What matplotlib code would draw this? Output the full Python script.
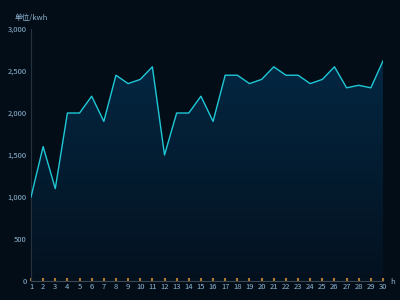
import numpy as np
import matplotlib
matplotlib.use("Agg")
import matplotlib.pyplot as plt
from matplotlib.ticker import FuncFormatter

plt.rcParams['font.family'] = ['Noto Sans CJK SC', 'DejaVu Sans']

days = list(range(1, 31))
usage = [1000, 1600, 1100, 2000, 2000, 2200, 1900, 2450, 2350, 2400,
         2550, 1500, 2000, 2000, 2200, 1900, 2450, 2450, 2350, 2400,
         2550, 2450, 2450, 2350, 2400, 2550, 2300, 2330, 2300, 2620]
y_ticks = [0, 500, 1000, 1500, 2000, 2500, 3000]

bg = '#020d18'
label_color = '#8fb6d3'

fig = plt.figure(figsize=(4, 3), dpi=100, facecolor=bg)
ax = fig.add_axes([0.0775, 0.0633, 0.88, 0.84])
ax.set_facecolor(bg)
ax.set_xlim(1, 30)
ax.set_ylim(0, 3000)

# gradient fill under the line, clipped to the area polygon
fill = ax.fill_between(days, usage, 0, color='none', lw=0)
grad = np.linspace(0, 1, 256).reshape(-1, 1)
from matplotlib.colors import LinearSegmentedColormap
cmap = LinearSegmentedColormap.from_list('g', ['#03111f', '#042742'])
img = ax.imshow(grad, cmap=cmap, aspect='auto', origin='lower',
                extent=[1, 30, 0, max(usage)], zorder=1)
path = fill.get_paths()[0]
img.set_clip_path(path, transform=ax.transData)

ax.plot(days, usage, color='#1fc8d6', lw=1.0, zorder=3)

for s in ['top', 'right']:
    ax.spines[s].set_visible(False)
ax.spines['left'].set_color('#26333f')
ax.spines['bottom'].set_color('#3a4854')
ax.spines['left'].set_linewidth(0.8)
ax.spines['bottom'].set_linewidth(0.8)

ax.set_xticks(days)
ax.set_xticklabels([str(d) for d in days])
ax.set_yticks(y_ticks)
ax.yaxis.set_major_formatter(FuncFormatter(lambda v, p: f'{int(v):,}'))
ax.tick_params(axis='x', direction='in', length=2.5, width=1.5,
               color='#b07a30', labelsize=5.5, labelcolor=label_color, pad=1.5)
ax.tick_params(axis='y', length=0, labelsize=5.5, labelcolor=label_color, pad=3)

fig.text(31 / 400, 1 - 18 / 300, '单位/kwh', color=label_color, fontsize=5.5,
         ha='center', va='center')
fig.text(393 / 400, 1 - 282 / 300, 'h', color=label_color, fontsize=5.5,
         ha='center', va='center')

fig.savefig('out.png', dpi=100, facecolor=bg)
